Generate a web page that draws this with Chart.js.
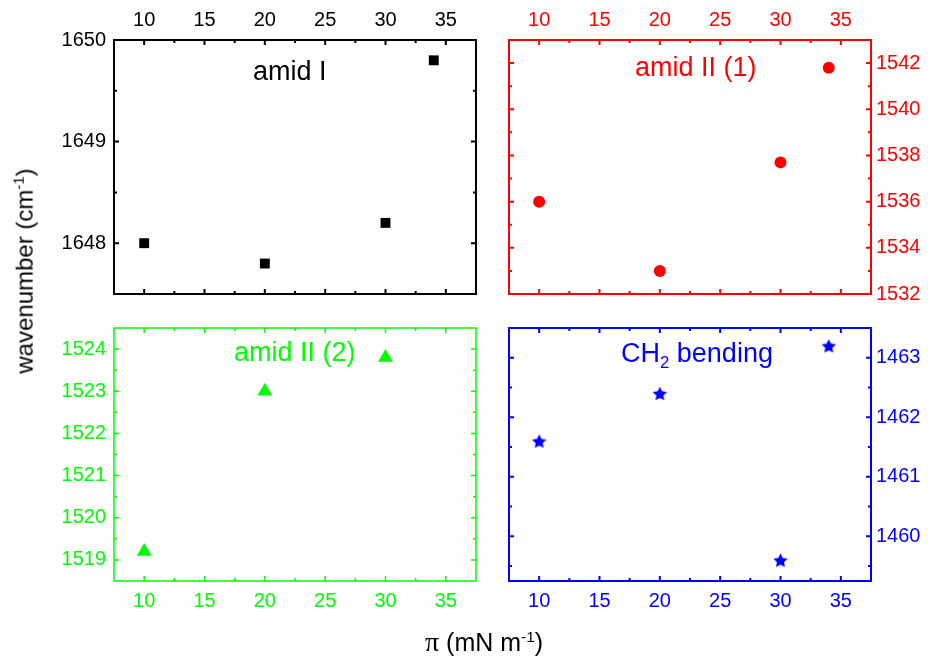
<!DOCTYPE html>
<html>
<head>
<meta charset="utf-8">
<script src="https://cdn.jsdelivr.net/npm/chart.js@4"></script>
<style>
  html, body { margin: 0; padding: 0; background: #fff; }
  #wrap { position: relative; width: 928px; height: 656px; overflow: hidden; font-family: "Liberation Sans", Arial, sans-serif; }
  #wrap canvas { position: absolute; left: 0; top: 0; }
  .lbl { position: absolute; white-space: nowrap; line-height: 1; }
  .lbl sub, .lbl sup { font-size: 62%; line-height: 0; }
</style>
</head>
<body>
<div id="wrap">
  <canvas id="p1" width="928" height="656"></canvas>
  <canvas id="p2" width="928" height="656"></canvas>
  <canvas id="p3" width="928" height="656"></canvas>
  <canvas id="p4" width="928" height="656"></canvas>

  <div class="lbl" id="lab1" style="font-size:27px;color:#000">amid I</div>
  <div class="lbl" id="lab2" style="font-size:27px;color:#ff0000">amid II (1)</div>
  <div class="lbl" id="lab3" style="font-size:27px;color:#00ff00">amid II (2)</div>
  <div class="lbl" id="lab4" style="font-size:27px;color:#0000ff">CH<sub>2</sub> bending</div>
  <div class="lbl" id="ytitle" style="font-size:24px;color:#000">wavenumber (cm<sup>-1</sup>)</div>
  <div class="lbl" id="xtitle" style="font-size:25px;color:#000"><span style="font-family:'Liberation Serif',serif;font-size:28px">π</span> (mN m<sup>-1</sup>)</div>
</div>
<script>
// surface pressure (mN/m)
const pressure = [10, 20, 30, 34];
const pressureII2 = [10, 20, 30];

// band positions (cm-1)
const amidI = [1648.0, 1647.8, 1648.2, 1649.8];
const amidII1 = [1536.0, 1533.0, 1537.7, 1541.8];
const amidII2 = [1519.2, 1523.0, 1523.8];
const ch2Bending = [1461.6, 1462.4, 1459.6, 1463.2];

// ticks
const xTicks = [10, 15, 20, 25, 30, 35];
const xMinor = [12.5, 17.5, 22.5, 27.5, 32.5];
const amidITicks = [1648, 1649, 1650];
const amidIMinor = [1648.5, 1649.5];
const amidII1Ticks = [1532, 1534, 1536, 1538, 1540, 1542];
const amidII1Minor = [1533, 1535, 1537, 1539, 1541];
const amidII2Ticks = [1519, 1520, 1521, 1522, 1523, 1524];
const amidII2Minor = [1519.5, 1520.5, 1521.5, 1522.5, 1523.5];
const ch2Ticks = [1460, 1461, 1462, 1463];
const ch2Minor = [1459.5, 1460.5, 1461.5, 1462.5];

const W = 928, H = 656;
const FONT = { family: "'Liberation Sans', Arial, sans-serif", size: 20 };

// frame with inward ticks on all four sides
const framePlugin = {
  id: 'frame',
  beforeDatasetsDraw(chart, args, o) {
    const { ctx, chartArea: a } = chart;
    const x = chart.scales.x, y = chart.scales.y;
    ctx.save();
    ctx.strokeStyle = o.color;
    ctx.lineWidth = o.width;
    ctx.beginPath();
    const seg = (x1, y1, x2, y2) => { ctx.moveTo(x1, y1); ctx.lineTo(x2, y2); };
    const xt = (vals, len) => vals.forEach(v => {
      const px = x.getPixelForValue(v);
      seg(px, a.top, px, a.top + len);
      seg(px, a.bottom, px, a.bottom - len);
    });
    const yt = (vals, len) => vals.forEach(v => {
      const py = y.getPixelForValue(v);
      seg(a.left, py, a.left + len, py);
      seg(a.right, py, a.right - len, py);
    });
    xt(o.xMajor, 5); xt(o.xMinor, 3);
    yt(o.yMajor, 5); yt(o.yMinor, 3);
    ctx.stroke();
    ctx.strokeRect(a.left, a.top, a.right - a.left, a.bottom - a.top);
    ctx.restore();
  }
};

// five-pointed star marker
function makeStar(r, color) {
  const c = document.createElement('canvas');
  const s = Math.ceil(2 * r + 2);
  c.width = s; c.height = s;
  const g = c.getContext('2d');
  g.fillStyle = color;
  g.beginPath();
  for (let i = 0; i < 10; i++) {
    const rr = i % 2 === 0 ? r : r * 0.5;
    const ang = -Math.PI / 2 + i * Math.PI / 5;
    const px = s / 2 + rr * Math.cos(ang), py = s / 2 + r * 0.1 + rr * Math.sin(ang);
    i === 0 ? g.moveTo(px, py) : g.lineTo(px, py);
  }
  g.closePath();
  g.fill();
  return c;
}

function makePanel(id, p) {
  const a = p.area;
  const xTop = p.xPos === 'top', yRight = p.yPos === 'right';
  new Chart(document.getElementById(id), {
    type: 'scatter',
    data: {
      datasets: [{
        data: p.xs.map((x, i) => ({ x: x, y: p.ys[i] })),
        pointStyle: p.pointStyle,
        pointRadius: p.radius,
        pointHoverRadius: p.radius,
        backgroundColor: p.color,
        borderColor: p.color,
        pointBorderWidth: 0
      }]
    },
    options: {
      responsive: false,
      animation: false,
      events: [],
      layout: {
        padding: {
          left: yRight ? a.l : 0,
          right: yRight ? 0 : W - a.r,
          top: xTop ? 0 : a.t,
          bottom: xTop ? H - a.b : 0
        }
      },
      plugins: {
        legend: { display: false },
        tooltip: { enabled: false },
        frame: { color: p.color, width: p.frameWidth, xMajor: xTicks, xMinor: xMinor, yMajor: p.yTicks, yMinor: p.yMinor }
      },
      scales: {
        x: {
          type: 'linear', position: p.xPos, min: 7.5, max: 37.5,
          grid: { display: false, drawTicks: false },
          border: { display: false },
          afterBuildTicks: s => { s.ticks = xTicks.map(v => ({ value: v })); },
          afterFit: s => { s.height = xTop ? a.t : H - a.b; },
          ticks: { color: p.xLabelColor, font: FONT, padding: 8, maxRotation: 0, callback: v => String(v) }
        },
        y: {
          type: 'linear', position: p.yPos, min: p.yMin, max: p.yMax,
          grid: { display: false, drawTicks: false },
          border: { display: false },
          afterBuildTicks: s => { s.ticks = p.yTicks.map(v => ({ value: v })); },
          afterFit: s => { s.width = yRight ? W - a.r : a.l; },
          ticks: { color: p.color, font: FONT, padding: yRight ? 5 : 8, callback: v => String(v) }
        }
      }
    },
    plugins: [framePlugin]
  });
}

const rowTop = { t: 40, b: 294 }, rowBottom = { t: 328, b: 581 };
const colLeft = { l: 114, r: 476 }, colRight = { l: 509, r: 871 };

makePanel('p1', {
  area: { ...colLeft, ...rowTop }, color: '#000000', xLabelColor: '#000000', frameWidth: 2,
  xPos: 'top', yPos: 'left', xs: pressure, ys: amidI, pointStyle: 'rect', radius: 7,
  yMin: 1647.5, yMax: 1650, yTicks: amidITicks, yMinor: amidIMinor
});
makePanel('p2', {
  area: { ...colRight, ...rowTop }, color: '#ff0000', xLabelColor: '#ff0000', frameWidth: 2,
  xPos: 'top', yPos: 'right', xs: pressure, ys: amidII1, pointStyle: 'circle', radius: 6,
  yMin: 1532, yMax: 1543, yTicks: amidII1Ticks, yMinor: amidII1Minor
});
makePanel('p3', {
  area: { ...colLeft, ...rowBottom }, color: '#00ff00', xLabelColor: '#00ff00', frameWidth: 1.5,
  xPos: 'bottom', yPos: 'left', xs: pressureII2, ys: amidII2, pointStyle: 'triangle', radius: 8.5,
  yMin: 1518.5, yMax: 1524.5, yTicks: amidII2Ticks, yMinor: amidII2Minor
});
makePanel('p4', {
  area: { ...colRight, ...rowBottom }, color: '#0000ff', xLabelColor: '#0000ff', frameWidth: 2,
  xPos: 'bottom', yPos: 'right', xs: pressure, ys: ch2Bending, pointStyle: makeStar(7.5, '#0000ff'), radius: 7.5,
  yMin: 1459.25, yMax: 1463.5, yTicks: ch2Ticks, yMinor: ch2Minor
});

// place html labels by baseline (Liberation Sans ascent ~0.8465em at line-height 1)
function place(id, cx, baseline, size) {
  const el = document.getElementById(id);
  el.style.top = (baseline - 0.8465 * size) + 'px';
  el.style.left = (cx - el.offsetWidth / 2) + 'px';
}
place('lab1', 290, 81, 27);
place('lab2', 696, 77, 27);
place('lab3', 295, 362, 27);
place('lab4', 697, 363, 27);
place('xtitle', 484, 649, 25);

const yTitle = document.getElementById('ytitle');
yTitle.style.left = (24 - yTitle.offsetWidth / 2) + 'px';
yTitle.style.top = (271 - yTitle.offsetHeight / 2) + 'px';
yTitle.style.transform = 'rotate(-90deg)';
</script>
</body>
</html>
